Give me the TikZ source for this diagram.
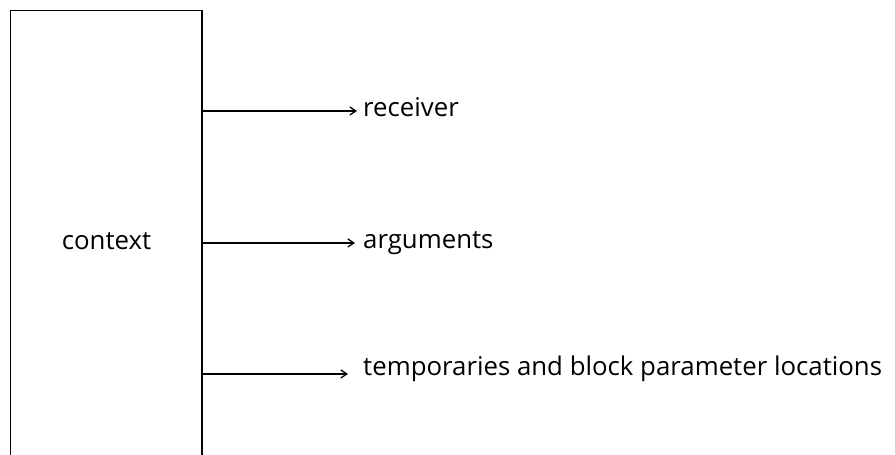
\documentclass[tikz,border=0pt]{standalone}
\usepackage{fontspec}
\setmainfont{Open Sans}
\usetikzlibrary{arrows.meta}
\begin{document}
\begin{tikzpicture}[x=1pt,y=1pt,
  boxline/.style={line width=1.3pt},
  ptr/.style={line width=1.1pt,-{Straight Barb[length=6pt,width=8pt,line width=1.3pt]}},
  txt/.style={inner sep=0pt,font=\fontsize{25.8}{30}\selectfont},
  lbl/.style={txt,anchor=base west}]
\useasboundingbox (0,0) rectangle (895,455);
\draw[boxline] (10.5,-5) -- (10.5,444.5) -- (202,444.5) -- (202,-5);
\node[txt,anchor=base] (ctx) at (106.5,205) {context};
\coordinate (p1) at (202,344);
\coordinate (p2) at (202,212);
\coordinate (p3) at (202,81);
\node[lbl] (rcv) at (363,338) {receiver};
\node[lbl] (arg) at (363,206) {arguments};
\node[lbl] (tmp) at (363,79) {temporaries and block parameter locations};
\draw[ptr] (p1) -- ([xshift=-6pt]p1 -| rcv.west);
\draw[ptr] (p2) -- ([xshift=-8pt]p2 -| arg.west);
\draw[ptr] (p3) -- ([xshift=-15pt]p3 -| tmp.west);
\end{tikzpicture}
\end{document}
